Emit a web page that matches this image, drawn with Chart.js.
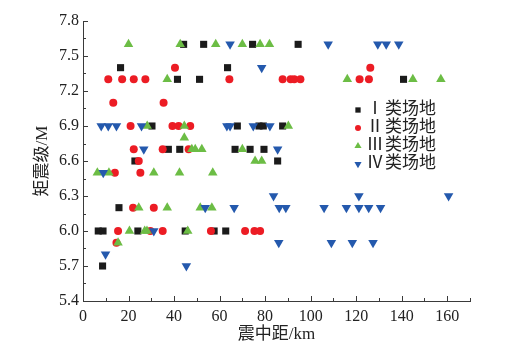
<!DOCTYPE html>
<html>
<head>
<meta charset="utf-8">
<script src="https://cdn.jsdelivr.net/npm/chart.js@4.4.0/dist/chart.umd.min.js"></script>
<style>
  html, body { margin: 0; padding: 0; background: #fff; }
  #wrap { width: 511px; height: 361px; }
</style>
</head>
<body>
<div id="wrap"><canvas id="chart" width="511" height="361"></canvas></div>
<script>
// ===== DATA =====
const seriesNames = ["Ⅰ 类场地", "Ⅱ 类场地", "Ⅲ类场地", "Ⅳ类场地"];
const xTicks = [0, 20, 40, 60, 80, 100, 120, 140, 160];
const yTicks = [5.4, 5.7, 6.0, 6.3, 6.6, 6.9, 7.2, 7.5, 7.8];

// I 类场地
const site1X = [16.5, 44.2, 53, 74.5, 94.5, 41.5, 51.2, 63.5, 140.8, 30.3, 67.8, 77.3, 79.2, 87.7,
  37.5, 42.5, 66.8, 73.4, 79.5, 22.8, 85.5, 15.8, 6.7, 8.8, 24.1, 44.9, 57.6, 62.7, 8.6];
const site1Y = [7.4, 7.6, 7.6, 7.6, 7.6, 7.3, 7.3, 7.4, 7.3, 6.9, 6.9, 6.9, 6.9, 6.9,
  6.7, 6.7, 6.7, 6.7, 6.7, 6.6, 6.6, 6.2, 6.0, 6.0, 6.0, 6.0, 6.0, 6.0, 5.7];

// II 类场地
const site2X = [11.1, 17.2, 22.3, 27.4, 40.4, 64.3, 87.7, 91.2, 92.8, 95.5, 121.5, 125.6, 126.2,
  13.3, 35.4, 20.9, 39.3, 42, 47.1, 22.3, 35, 46.4, 24.5, 14, 25.2, 22, 31.1,
  15.4, 29.6, 35, 56.2, 71.2, 75.3, 77.8, 14.7];
const site2Y = [7.3, 7.3, 7.3, 7.3, 7.4, 7.3, 7.3, 7.3, 7.3, 7.3, 7.3, 7.3, 7.4,
  7.1, 7.1, 6.9, 6.9, 6.9, 6.9, 6.7, 6.7, 6.7, 6.6, 6.5, 6.5, 6.2, 6.2,
  6.0, 6.0, 6.0, 6.0, 6.0, 6.0, 6.0, 5.9];

// III 类场地
const site3X = [20, 42.7, 58.3, 70, 77.8, 81.9, 37, 116.1, 144.9, 157.2, 28.2, 44.5, 90.2, 44.5,
  47.8, 49.3, 52.2, 70, 75.6, 78.5, 6.3, 11.4, 31.1, 42.4, 57, 24.5, 37, 51.5, 56.6,
  20.4, 27.1, 28.1, 46, 15.4];
const site3Y = [7.6, 7.6, 7.6, 7.6, 7.6, 7.6, 7.3, 7.3, 7.3, 7.3, 6.9, 6.9, 6.9, 6.8,
  6.7, 6.7, 6.7, 6.7, 6.6, 6.6, 6.5, 6.5, 6.5, 6.5, 6.5, 6.2, 6.2, 6.2, 6.2,
  6.0, 6.0, 6.0, 6.0, 5.9];

// IV 类场地
const site4X = [64.6, 107.7, 129.5, 133.2, 138.7, 78.5, 8, 11.1, 14.7, 25.7, 63.2, 64.6, 74.8, 82.1,
  26.7, 85.5, 8.9, 83.7, 121.2, 160.6, 53.7, 66.4, 86.2, 89.1, 105.9, 115.7, 121.2, 125.5, 130.7,
  31.1, 9.9, 86, 109.1, 118.3, 127.4, 45.4];
const site4Y = [7.6, 7.6, 7.6, 7.6, 7.6, 7.4, 6.9, 6.9, 6.9, 6.9, 6.9, 6.9, 6.9, 6.9,
  6.7, 6.7, 6.5, 6.3, 6.3, 6.3, 6.2, 6.2, 6.2, 6.2, 6.2, 6.2, 6.2, 6.2, 6.2,
  6.0, 5.8, 5.9, 5.9, 5.9, 5.9, 5.7];

const serif = "'Liberation Serif', 'Noto Sans CJK SC', serif";
const axisColor = "#3a3a3a";

function pairs(xs, ys) {
  return xs.map((x, i) => ({ x: x, y: ys[i] }));
}

// marker styles per series
const styles = [
  { color: "#1b1b1b", pointStyle: "rect", radius: 5, rotation: 0 },
  { color: "#ec1c24", pointStyle: "circle", radius: 4, rotation: 0 },
  { color: "#6cbd45", pointStyle: "triangle", radius: 5.5, rotation: 0 },
  { color: "#2459ad", pointStyle: "triangle", radius: 5.5, rotation: 180 }
];

const allData = [pairs(site1X, site1Y), pairs(site2X, site2Y), pairs(site3X, site3Y), pairs(site4X, site4Y)];

const datasets = allData.map((d, i) => ({
  label: seriesNames[i],
  data: d,
  order: 4 - i,
  pointStyle: styles[i].pointStyle,
  pointRotation: styles[i].rotation,
  pointRadius: styles[i].radius,
  pointHoverRadius: styles[i].radius,
  pointBackgroundColor: styles[i].color,
  pointBorderColor: styles[i].color,
  pointBorderWidth: 0,
  showLine: false
}));

// inward major + minor ticks and the inset legend
const decorPlugin = {
  id: "decor",
  afterDraw(chart) {
    const ctx = chart.ctx;
    const xs = chart.scales.x, ys = chart.scales.y;
    const area = chart.chartArea;
    ctx.save();
    ctx.strokeStyle = axisColor;
    ctx.lineWidth = 1;
    ctx.beginPath();
    for (let v = 0; v <= 170; v += 10) {
      const px = Math.round(xs.getPixelForValue(v)) + 0.5;
      const len = v % 20 === 0 ? 5 : 3;
      ctx.moveTo(px, area.bottom);
      ctx.lineTo(px, area.bottom - len);
    }
    for (let k = 0; k <= 16; k++) {
      const v = 5.4 + k * 0.15;
      const py = Math.round(ys.getPixelForValue(v)) + 0.5;
      const len = k % 2 === 0 ? 5 : 3;
      ctx.moveTo(area.left, py);
      ctx.lineTo(area.left + len, py);
    }
    ctx.stroke();

    // legend
    const rowY = [110, 128, 146, 164];
    ctx.font = "17px " + serif;
    ctx.textBaseline = "middle";
    seriesNames.forEach((name, i) => {
      const st = styles[i];
      ctx.fillStyle = st.color;
      Chart.helpers.drawPoint(ctx, {
        pointStyle: st.pointStyle,
        rotation: st.rotation,
        radius: st.radius * 0.75,
        borderWidth: 0
      }, 358, rowY[i]);
      ctx.fillStyle = "#222";
      const parts = name.replace(" ", "");
      ctx.textAlign = "center";
      ctx.fillText(parts.charAt(0), 375, rowY[i]);
      ctx.textAlign = "left";
      ctx.fillText(parts.slice(1), 385, rowY[i]);
    });
    ctx.restore();
  }
};

new Chart(document.getElementById("chart"), {
  type: "scatter",
  data: { datasets: datasets },
  plugins: [decorPlugin],
  options: {
    responsive: false,
    animation: false,
    layout: { padding: { left: 32, top: 21, right: 41, bottom: 16 } },
    plugins: {
      legend: { display: false },
      tooltip: { enabled: false }
    },
    scales: {
      x: {
        type: "linear",
        min: 0,
        max: 170,
        afterBuildTicks: s => { s.ticks = xTicks.map(v => ({ value: v })); },
        afterFit: s => { s.height = 44; },
        grid: { display: false, drawTicks: false },
        border: { display: true, color: axisColor, width: 1 },
        ticks: { color: "#222", font: { family: serif, size: 16 }, padding: 6, maxRotation: 0 },
        title: { display: true, text: "震中距/km", color: "#222", font: { family: serif, size: 17 }, padding: 0 }
      },
      y: {
        type: "linear",
        min: 5.4,
        max: 7.8,
        afterBuildTicks: s => { s.ticks = yTicks.map(v => ({ value: v })); },
        afterFit: s => { s.width = 51; },
        grid: { display: false, drawTicks: false },
        border: { display: true, color: axisColor, width: 1 },
        ticks: { color: "#222", font: { family: serif, size: 16 }, padding: 4,
          callback: v => Number(v).toFixed(1) },
        title: { display: true, text: "矩震级/M", color: "#222", font: { family: serif, size: 17 }, padding: 0 }
      }
    }
  }
});
</script>
</body>
</html>
